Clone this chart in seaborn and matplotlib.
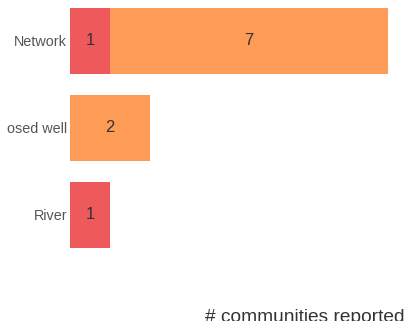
import matplotlib
matplotlib.use("Agg")
import matplotlib.pyplot as plt
from matplotlib.transforms import Bbox
import seaborn as sns
import pandas as pd

sources = ["Network", "Enclosed well", "River"]
poor = [1, 0, 1]
fair = [7, 2, 0]
x_label = "# communities reported"

RED = "#ee5a5c"
ORANGE = "#fe9b56"

df = pd.DataFrame({"source": sources, "poor": poor, "fair": fair})
df["total"] = df["poor"] + df["fair"]

sns.set_style("white")
plt.rcParams["font.family"] = ["Liberation Sans", "DejaVu Sans"]

W, H = 408, 321
fig = plt.figure(figsize=(W / 100, H / 100), dpi=100)
ax_left, ax_right, ax_top, ax_bottom = 70, 408, 0, 290
ax = fig.add_axes([ax_left / W, 1 - ax_bottom / H, (ax_right - ax_left) / W, (ax_bottom - ax_top) / H])

sns.barplot(data=df, x="total", y="source", orient="h", color=ORANGE,
            saturation=1, width=0.76, ax=ax, linewidth=0)
sns.barplot(data=df, x="poor", y="source", orient="h", color=RED,
            saturation=1, width=0.76, ax=ax, linewidth=0)

for i, row in df.iterrows():
    if row["poor"] > 0:
        ax.text(row["poor"] / 2, i, str(row["poor"]), ha="center", va="center",
                fontsize=12, color="#333333")
    if row["fair"] > 0:
        ax.text(row["poor"] + row["fair"] / 2, i, str(row["fair"]), ha="center",
                va="center", fontsize=12, color="#333333")

ax.set_xlim(0, (ax_right - ax_left) / 39.8)
ax.set_ylim(2.862, -0.471)
for s in ax.spines.values():
    s.set_visible(False)
ax.set_xticks([])
ax.set_ylabel("")
ax.tick_params(axis="y", length=0, pad=2, labelsize=10.4, labelcolor="#555555")
ax.set_xlabel(x_label, fontsize=13.8, color="#333333")
ax.xaxis.set_label_coords((305 - ax_left) / (ax_right - ax_left), -19 / 290)

# labels are truncated at a left margin, as in the reference
clip = Bbox.from_extents(7, 0, W, H)
for lab in ax.get_yticklabels():
    lab.set_clip_box(clip)
    lab.set_clip_on(True)

fig.savefig("out.png", dpi=100)
